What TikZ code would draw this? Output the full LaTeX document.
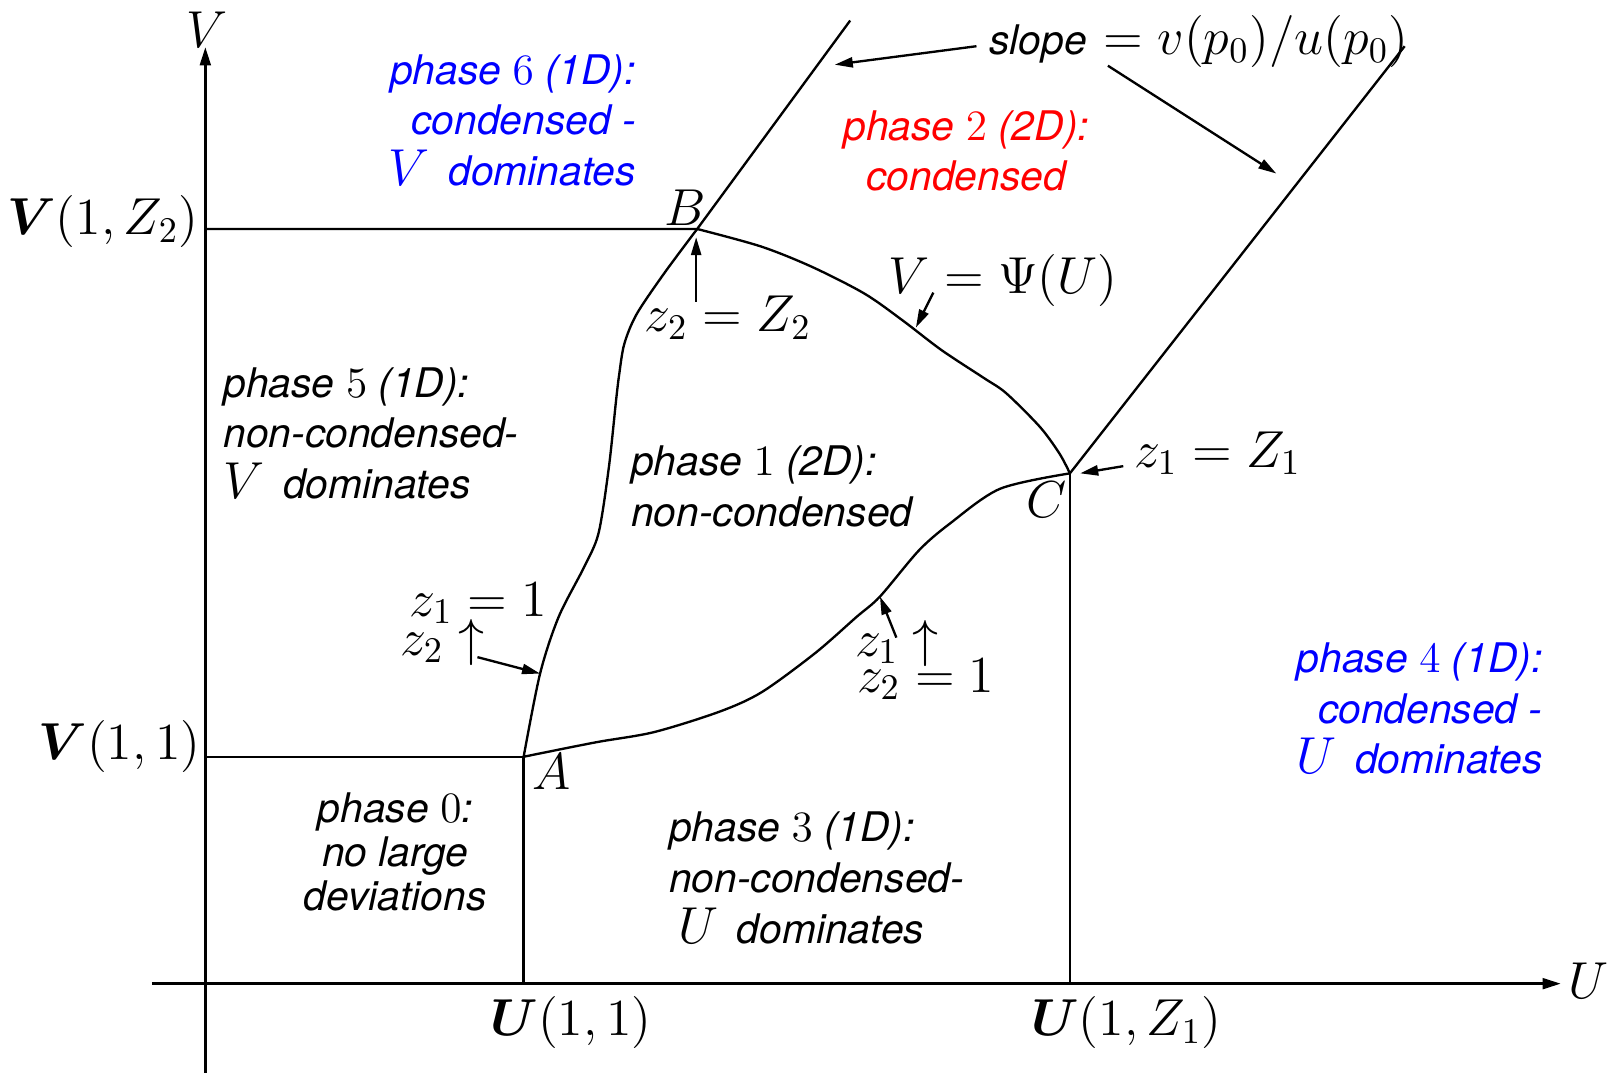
\documentclass[tikz,border=0pt]{standalone}
\usepackage{amsmath}
\usepackage{fontspec}
\usepackage{tikz}
\usetikzlibrary{arrows.meta}
\newfontfamily\lblfont{TeX Gyre Heros}
\definecolor{phblue}{RGB}{0,0,255}
\definecolor{phred}{RGB}{255,0,0}
\newcommand{\lbl}{\lblfont\itshape\fontsize{11.3}{14}\selectfont}
\newcommand{\lbltight}{\lblfont\itshape\fontsize{11.3}{12.2}\selectfont}
\newcommand{\mlbl}{\fontsize{14}{17}\selectfont}
\newcommand{\pn}[1]{{\fontsize{12}{12}\selectfont$#1$}}
\newcommand{\mV}[1]{{\mlbl$#1$}\hspace{2pt}}

\begin{document}
\begin{tikzpicture}[x=0.01cm,y=-0.01cm,
  curve/.style={line width=0.65pt},
  axis/.style={line width=0.65pt,-{Triangle[length=5pt,width=3pt]}},
  ptr/.style={line width=0.65pt,-{Triangle[length=5pt,width=2.8pt]}},
  region/.style={font=\lbl,inner sep=0pt},
  mlabel/.style={font=\mlbl,inner sep=0pt},
]
  \useasboundingbox (0,0) rectangle (1568,1045);
  % corner points
  \coordinate (A) at (510,737);
  \coordinate (B) at (679,223);
  \coordinate (C) at (1042,461);
  \coordinate (vbot) at (200,1045);
  \coordinate (vtop) at (200,46);
  \coordinate (uleft) at (148,958);
  \coordinate (uright) at (1520,958);
  \coordinate (vB) at (200,223);
  \coordinate (vA) at (200,737);
  \coordinate (uA) at (510,958);
  \coordinate (uC) at (1042,958);
  \coordinate (Btop) at (828,20);
  \coordinate (Ctop) at (1368,45);

  % axes
  \draw[axis] (vbot) -- (vtop);
  \draw[axis] (uleft) -- (uright);

  % phase boundaries
  \draw[curve] (vB) -- (B) -- (Btop);
  \draw[curve] (vA) -- (A) -- (uA);
  \draw[curve] (C) -- (uC);
  \draw[curve] (C) -- (Ctop);
  \draw[curve] plot[smooth,tension=0.5] coordinates {(A) (526,656) (544,601) (569,552)
    (583,519) (593,455) (600,390) (603,365) (608,335) (620,306) (647,266) (B)};
  \draw[curve] plot[smooth,tension=0.5] coordinates {(B) (741,240) (791,260) (842,286)
    (879,312) (917,341) (958,368) (980,383) (1013,416) (1032,442) (C)};
  \draw[curve] plot[smooth,tension=0.5] coordinates {(A) (580,723) (637,713) (701,693)
    (742,674) (794,636) (834,601) (857,581) (895,536) (925,510) (974,476) (C)};

  % axis labels
  \node[mlabel] (vlab) at (202,29) {$V$};
  \node[mlabel] (ulab) at (1547,955) {$U$};
  \node[mlabel,anchor=east] (vz2) at (194,216) {$\boldsymbol{V}(1,Z_2)$};
  \node[mlabel,anchor=east] (v11) at (196,727) {$\boldsymbol{V}(1,1)$};
  \node[mlabel] (u11) at (556,996) {$\boldsymbol{U}(1,1)$};
  \node[mlabel] (uz1) at (1097,996) {$\boldsymbol{U}(1,Z_1)$};
  \node[mlabel] (Alab) at (537,752) {$A$};
  \node[mlabel] (Blab) at (667,202) {$B$};
  \node[mlabel] (Clab) at (1019,487) {$C$};

  % phases
  \node[region,phblue,align=right,anchor=east] (ph6) at (620,117)
    {phase \pn{6} (1D):\\ condensed -\\ \mV{V} dominates};
  \node[region,phred,align=center] (ph2) at (941,147)
    {phase \pn{2} (2D):\\ condensed};
  \node[region,align=left,anchor=west] (ph5) at (217,422)
    {phase \pn{5} (1D):\\ non-condensed-\\ \mV{V} dominates};
  \node[region,align=left,anchor=west] (ph1) at (614,474)
    {phase \pn{1} (2D):\\ non-condensed};
  \node[region,align=center,font=\lbltight] (ph0) at (385,830)
    {phase \pn{0}:\\ no large\\ deviations};
  \node[region,align=left,anchor=west] (ph3) at (651,855)
    {phase \pn{3} (1D):\\ non-condensed-\\ \hspace{2.5pt}\mV{U} dominates};
  \node[region,phblue,align=right,anchor=east] (ph4) at (1503,690)
    {phase \pn{4} (1D):\\ condensed -\\ \mV{U} dominates};

  % pointer labels
  \node[mlabel,anchor=base west] (slope) at (963,53) {{\lbl slope} $=v(p_0)/u(p_0)$};
  \coordinate (sl1) at (951,45);   \coordinate (sl1t) at (813,63);
  \coordinate (sl2) at (1079,64);  \coordinate (sl2t) at (1243,169);
  \draw[ptr] (sl1) -- (sl1t);
  \draw[ptr] (sl2) -- (sl2t);

  \node[mlabel,anchor=base west] (psi) at (865,286) {$V = \Psi(U)$};
  \coordinate (ps) at (909,285);   \coordinate (pst) at (892,319);
  \draw[ptr] (ps) -- (pst);

  \node[mlabel,anchor=base west] (zZ2) at (627,323) {$z_2 = Z_2$};
  \coordinate (zb) at (678,294);   \coordinate (zbt) at (678,231);
  \draw[ptr] (zb) -- (zbt);

  \node[mlabel,anchor=base west] (zZ1) at (1104,455) {$z_1 = Z_1$};
  \coordinate (zc) at (1094,454);  \coordinate (zct) at (1052,461);
  \draw[ptr] (zc) -- (zct);

  \node[mlabel,anchor=base west] (za1) at (398,600) {$z_1 = 1$};
  \node[mlabel,anchor=base west] (za2) at (389,638) {$z_2\uparrow$};
  \coordinate (za) at (465,640);   \coordinate (zat) at (526,656);
  \draw[ptr] (za) -- (zat);

  \node[mlabel,anchor=base west] (zd1) at (832,639) {$z_1\uparrow$};
  \node[mlabel,anchor=base west] (zd2) at (834,674) {$z_2 = 1$};
  \coordinate (zd) at (873,621);   \coordinate (zdt) at (857,581);
  \draw[ptr] (zd) -- (zdt);
\end{tikzpicture}
\end{document}
